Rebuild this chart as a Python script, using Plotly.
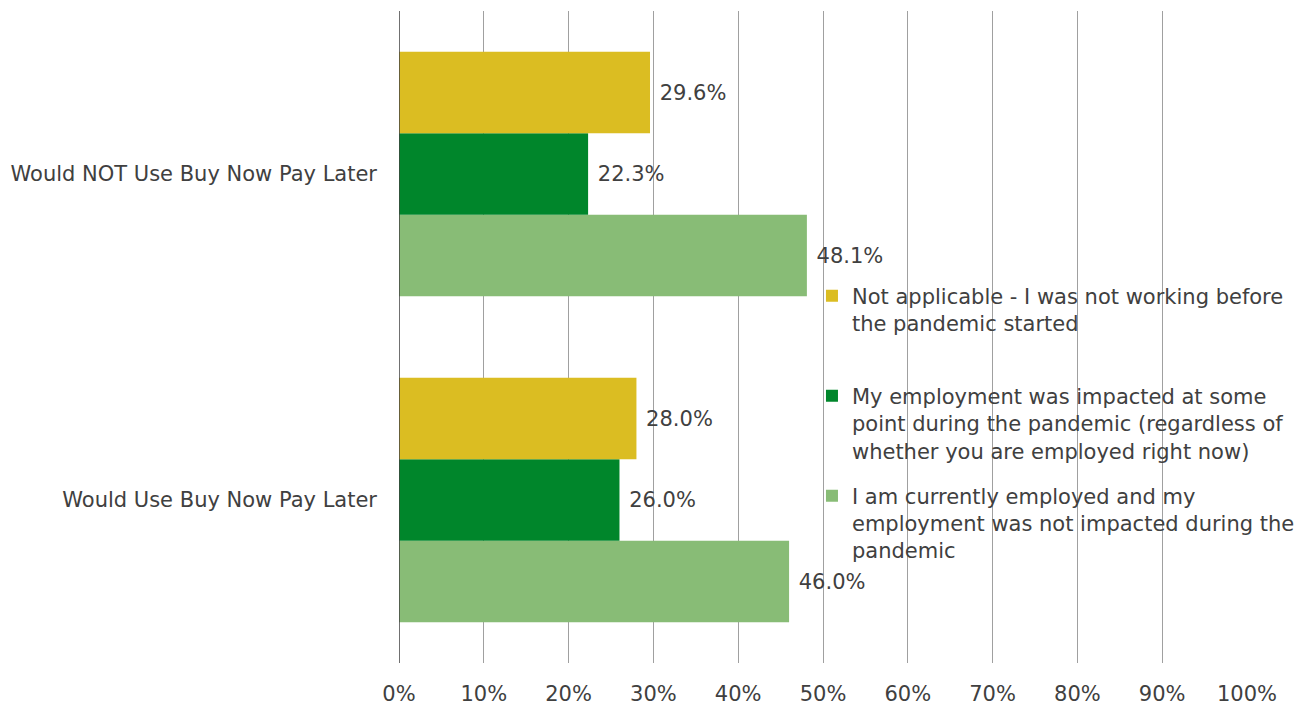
import plotly.graph_objects as go

categories = ["Would Use Buy Now Pay Later", "Would NOT Use Buy Now Pay Later"]
series_names = [
    "I am currently employed and my<br>employment was not impacted during the<br>pandemic",
    "My employment was impacted at some<br>point during the pandemic (regardless of<br>whether you are employed right now)",
    "Not applicable - I was not working before<br>the pandemic started<br>\u00a0",
]
not_impacted = [46.0, 48.1]
impacted = [26.0, 22.3]
not_applicable = [28.0, 29.6]
colors = ["#88BC76", "#00862B", "#DBBD22"]
legend_ranks = [3, 2, 1]
tick_vals = [0, 10, 20, 30, 40, 50, 60, 70, 80, 90, 100]
tick_text = [f"{v}%" for v in tick_vals]

FONT = "DejaVu Sans"
TXT = "#404040"
FS = 21

fig = go.Figure()
for i, (name, vals, col, rk) in enumerate(zip(series_names, [not_impacted, impacted, not_applicable], colors, legend_ranks)):
    fig.add_trace(go.Bar(
        y=categories, x=vals, orientation="h", name=name,
        legendgroup=f"g{i}", legendrank=rk,
        marker=dict(color=col, line=dict(width=0)),
        text=[f"\u00a0{v:.1f}%" for v in vals], textposition="outside",
        textfont=dict(family=FONT, size=FS, color=TXT),
        cliponaxis=False,
    ))

fig.update_layout(
    width=1295, height=706,
    margin=dict(l=399, r=48, t=11, b=43, autoexpand=False),
    paper_bgcolor="white", plot_bgcolor="white",
    barmode="group", bargap=0.25, bargroupgap=0,
    font=dict(family=FONT, size=FS, color=TXT),
    showlegend=True,
    legend=dict(
        x=0.487, y=0.594, xanchor="left", yanchor="top",
        traceorder="grouped", valign="top",
        tracegroupgap=15,
        bgcolor="rgba(0,0,0,0)",
        font=dict(family=FONT, size=FS, color=TXT),
        itemwidth=30,
    ),
    xaxis=dict(
        range=[0, 100], tickvals=tick_vals, ticktext=tick_text,
        showgrid=True, gridcolor="#A0A0A0", gridwidth=1,
        zeroline=False, showline=False, ticks="",
        ticklabelstandoff=16, automargin=False,
        tickfont=dict(family=FONT, size=FS, color=TXT),
    ),
    yaxis=dict(
        showgrid=False, zeroline=False, showline=False, ticks="",
        ticklabelstandoff=21, automargin=False,
        tickfont=dict(family=FONT, size=FS, color=TXT),
    ),
    shapes=[dict(type="line", xref="x", yref="paper", x0=0, x1=0, y0=0, y1=1,
                 line=dict(color="#404040", width=1.5))],
)

fig.write_html("out.html")
